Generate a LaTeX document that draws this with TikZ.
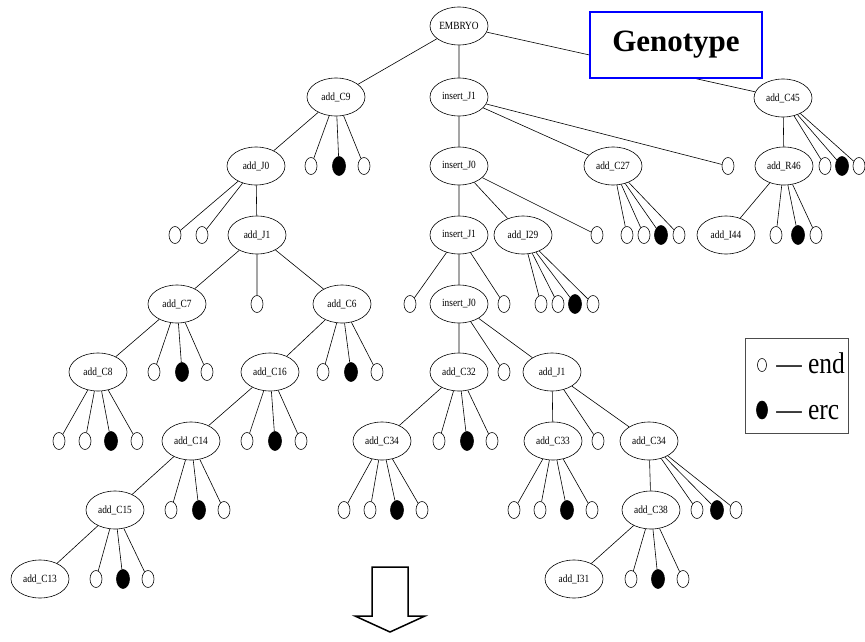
\documentclass[tikz,border=0pt]{standalone}
\usepackage{fontspec}
\setmainfont{Liberation Serif}
\newfontfamily\narrowserif[FakeStretch=0.85,Ligatures=TeX]{Liberation Serif}
\usetikzlibrary{shapes.geometric}

\begin{document}
\begin{tikzpicture}[
	x=1pt, y=-1pt
	,line width=0.6pt
	,gn/.style={ellipse, draw, fill=white, minimum width=58pt, minimum height=38pt, inner sep=0pt, font=\narrowserif\fontsize{11}{11}\selectfont}
	,en/.style={ellipse, draw, fill=white, minimum width=12pt, minimum height=17pt, inner sep=0pt}
	,ec/.style={ellipse, draw, fill=black, minimum width=13pt, minimum height=19pt, inner sep=0pt}
	,legtext/.style={anchor=base west, inner sep=0pt, font=\narrowserif\fontsize{30}{30}\selectfont}
]
	\useasboundingbox (0,0) rectangle (865,642);

	% gene nodes
	\node [gn] (emb) at (459,26) {EMBRYO};
	\node [gn] (c9) at (336,97) {add\_C9};
	\node [gn] (ij1) at (459,97) {insert\_J1};
	\node [gn] (c45) at (783,98) {add\_C45};
	\node [gn] (j0) at (256,166) {add\_J0};
	\node [gn] (ij0) at (459,166) {insert\_J0};
	\node [gn] (c27) at (613,166) {add\_C27};
	\node [gn] (r46) at (784,166) {add\_R46};
	\node [gn] (j1) at (257,235) {add\_J1};
	\node [gn] (ij1b) at (459,235) {insert\_J1};
	\node [gn] (i29) at (523,235) {add\_I29};
	\node [gn] (i44) at (726,235) {add\_I44};
	\node [gn] (c7) at (177,304) {add\_C7};
	\node [gn] (c6) at (342,304) {add\_C6};
	\node [gn] (ij0b) at (459,304) {insert\_J0};
	\node [gn] (c8) at (98,372) {add\_C8};
	\node [gn] (c16) at (270,372) {add\_C16};
	\node [gn] (c32) at (459,372) {add\_C32};
	\node [gn] (j1b) at (552,372) {add\_J1};
	\node [gn] (c14) at (191,441) {add\_C14};
	\node [gn] (c34) at (382,441) {add\_C34};
	\node [gn] (c33) at (553,441) {add\_C33};
	\node [gn] (c34b) at (649,441) {add\_C34};
	\node [gn] (c15) at (115,510) {add\_C15};
	\node [gn] (c38) at (651,510) {add\_C38};
	\node [gn] (c13) at (40,579) {add\_C13};
	\node [gn] (i31) at (574,579) {add\_I31};

	% end / erc leaves
	\node [en] (c9a) at (311,166) {};
	\node [ec] (c9b) at (339,166) {};
	\node [en] (c9c) at (364,166) {};
	\node [en] (ij1a) at (728,166) {};
	\node [en] (c45a) at (825,166) {};
	\node [ec] (c45b) at (842,166) {};
	\node [en] (c45c) at (859,166) {};
	\node [en] (j0a) at (175,235) {};
	\node [en] (j0b) at (202,235) {};
	\node [en] (c27a) at (627,235) {};
	\node [en] (c27b) at (644,235) {};
	\node [ec] (c27c) at (661,235) {};
	\node [en] (c27d) at (679,235) {};
	\node [en] (ij0a) at (597,235) {};
	\node [en] (r46a) at (776,235) {};
	\node [ec] (r46b) at (798,235) {};
	\node [en] (r46c) at (816,235) {};
	\node [en] (j1a) at (257,304) {};
	\node [en] (ij1ba) at (410,304) {};
	\node [en] (ij1bb) at (504,304) {};
	\node [en] (i29a) at (541,304) {};
	\node [en] (i29b) at (558,304) {};
	\node [ec] (i29c) at (575,304) {};
	\node [en] (i29d) at (593,304) {};
	\node [en] (c7a) at (154,372) {};
	\node [ec] (c7b) at (182,372) {};
	\node [en] (c7c) at (207,372) {};
	\node [en] (c6a) at (323,372) {};
	\node [ec] (c6b) at (351,372) {};
	\node [en] (c6c) at (377,372) {};
	\node [en] (ij0ba) at (504,372) {};
	\node [en] (c8a) at (59,441) {};
	\node [en] (c8b) at (85,441) {};
	\node [ec] (c8c) at (111,441) {};
	\node [en] (c8d) at (137,441) {};
	\node [en] (c16a) at (247,441) {};
	\node [ec] (c16b) at (275,441) {};
	\node [en] (c16c) at (301,441) {};
	\node [en] (c32a) at (439,441) {};
	\node [ec] (c32b) at (467,441) {};
	\node [en] (c32c) at (492,441) {};
	\node [en] (j1ba) at (598,441) {};
	\node [en] (c14a) at (171,510) {};
	\node [ec] (c14b) at (199,510) {};
	\node [en] (c14c) at (224,510) {};
	\node [en] (c34a) at (344,510) {};
	\node [en] (c34c) at (370,510) {};
	\node [ec] (c34d) at (397,510) {};
	\node [en] (c34e) at (422,510) {};
	\node [en] (c33a) at (514,510) {};
	\node [en] (c33b) at (540,510) {};
	\node [ec] (c33c) at (567,510) {};
	\node [en] (c33d) at (592,510) {};
	\node [en] (c34ba) at (697,510) {};
	\node [ec] (c34bb) at (717,510) {};
	\node [en] (c34bc) at (736,510) {};
	\node [en] (c15a) at (96,579) {};
	\node [ec] (c15b) at (123,579) {};
	\node [en] (c15c) at (148,579) {};
	\node [en] (c38a) at (631,579) {};
	\node [ec] (c38b) at (658,579) {};
	\node [en] (c38c) at (683,579) {};

	% tree edges
	\draw (emb) -- (c9) (emb) -- (ij1) (emb) -- (c45);
	\draw (c9) -- (j0) (c9) -- (c9a) (c9) -- (c9b) (c9) -- (c9c);
	\draw (ij1) -- (ij0) (ij1) -- (c27) (ij1) -- (ij1a);
	\draw (c45) -- (r46) (c45) -- (c45a) (c45) -- (c45b) (c45) -- (c45c);
	\draw (j0) -- (j0a) (j0) -- (j0b) (j0) -- (j1);
	\draw (ij0) -- (ij1b) (ij0) -- (i29) (ij0) -- (ij0a);
	\draw (c27) -- (c27a) (c27) -- (c27b) (c27) -- (c27c) (c27) -- (c27d);
	\draw (r46) -- (i44) (r46) -- (r46a) (r46) -- (r46b) (r46) -- (r46c);
	\draw (j1) -- (c7) (j1) -- (j1a) (j1) -- (c6);
	\draw (ij1b) -- (ij1ba) (ij1b) -- (ij0b) (ij1b) -- (ij1bb);
	\draw (i29) -- (i29a) (i29) -- (i29b) (i29) -- (i29c) (i29) -- (i29d);
	\draw (c7) -- (c8) (c7) -- (c7a) (c7) -- (c7b) (c7) -- (c7c);
	\draw (c6) -- (c16) (c6) -- (c6a) (c6) -- (c6b) (c6) -- (c6c);
	\draw (ij0b) -- (c32) (ij0b) -- (ij0ba) (ij0b) -- (j1b);
	\draw (c8) -- (c8a) (c8) -- (c8b) (c8) -- (c8c) (c8) -- (c8d);
	\draw (c16) -- (c14) (c16) -- (c16a) (c16) -- (c16b) (c16) -- (c16c);
	\draw (c32) -- (c34) (c32) -- (c32a) (c32) -- (c32b) (c32) -- (c32c);
	\draw (j1b) -- (c33) (j1b) -- (j1ba) (j1b) -- (c34b);
	\draw (c14) -- (c15) (c14) -- (c14a) (c14) -- (c14b) (c14) -- (c14c);
	\draw (c34) -- (c34a) (c34) -- (c34c) (c34) -- (c34d) (c34) -- (c34e);
	\draw (c33) -- (c33a) (c33) -- (c33b) (c33) -- (c33c) (c33) -- (c33d);
	\draw (c34b) -- (c38) (c34b) -- (c34ba) (c34b) -- (c34bb) (c34b) -- (c34bc);
	\draw (c15) -- (c13) (c15) -- (c15a) (c15) -- (c15b) (c15) -- (c15c);
	\draw (c38) -- (i31) (c38) -- (c38a) (c38) -- (c38b) (c38) -- (c38c);

	% title box
	\node [draw=blue, line width=1.4pt, fill=white, minimum width=172pt, minimum height=66pt, font=\bfseries\fontsize{31}{31}\selectfont] (geno) at (676,45) {Genotype};

	% legend
	\node [draw=black!70, minimum width=103pt, minimum height=95pt] (leg) at (796.5,385.5) {};
	\node [en, minimum width=9pt, minimum height=13pt] (legend) at (762,365) {};
	\node [ec, minimum width=11pt, minimum height=18pt] (legerc) at (762,410) {};
	\node [legtext] (legendt) at (776,373) {— end};
	\node [legtext] (legerct) at (776,419) {— erc};

	% down arrow
	\draw [line width=1.5pt] (372,567) -- (408,567) -- (408,616) -- (425,616) -- (390,632) -- (355,616) -- (372,616) -- cycle;
\end{tikzpicture}
\end{document}
